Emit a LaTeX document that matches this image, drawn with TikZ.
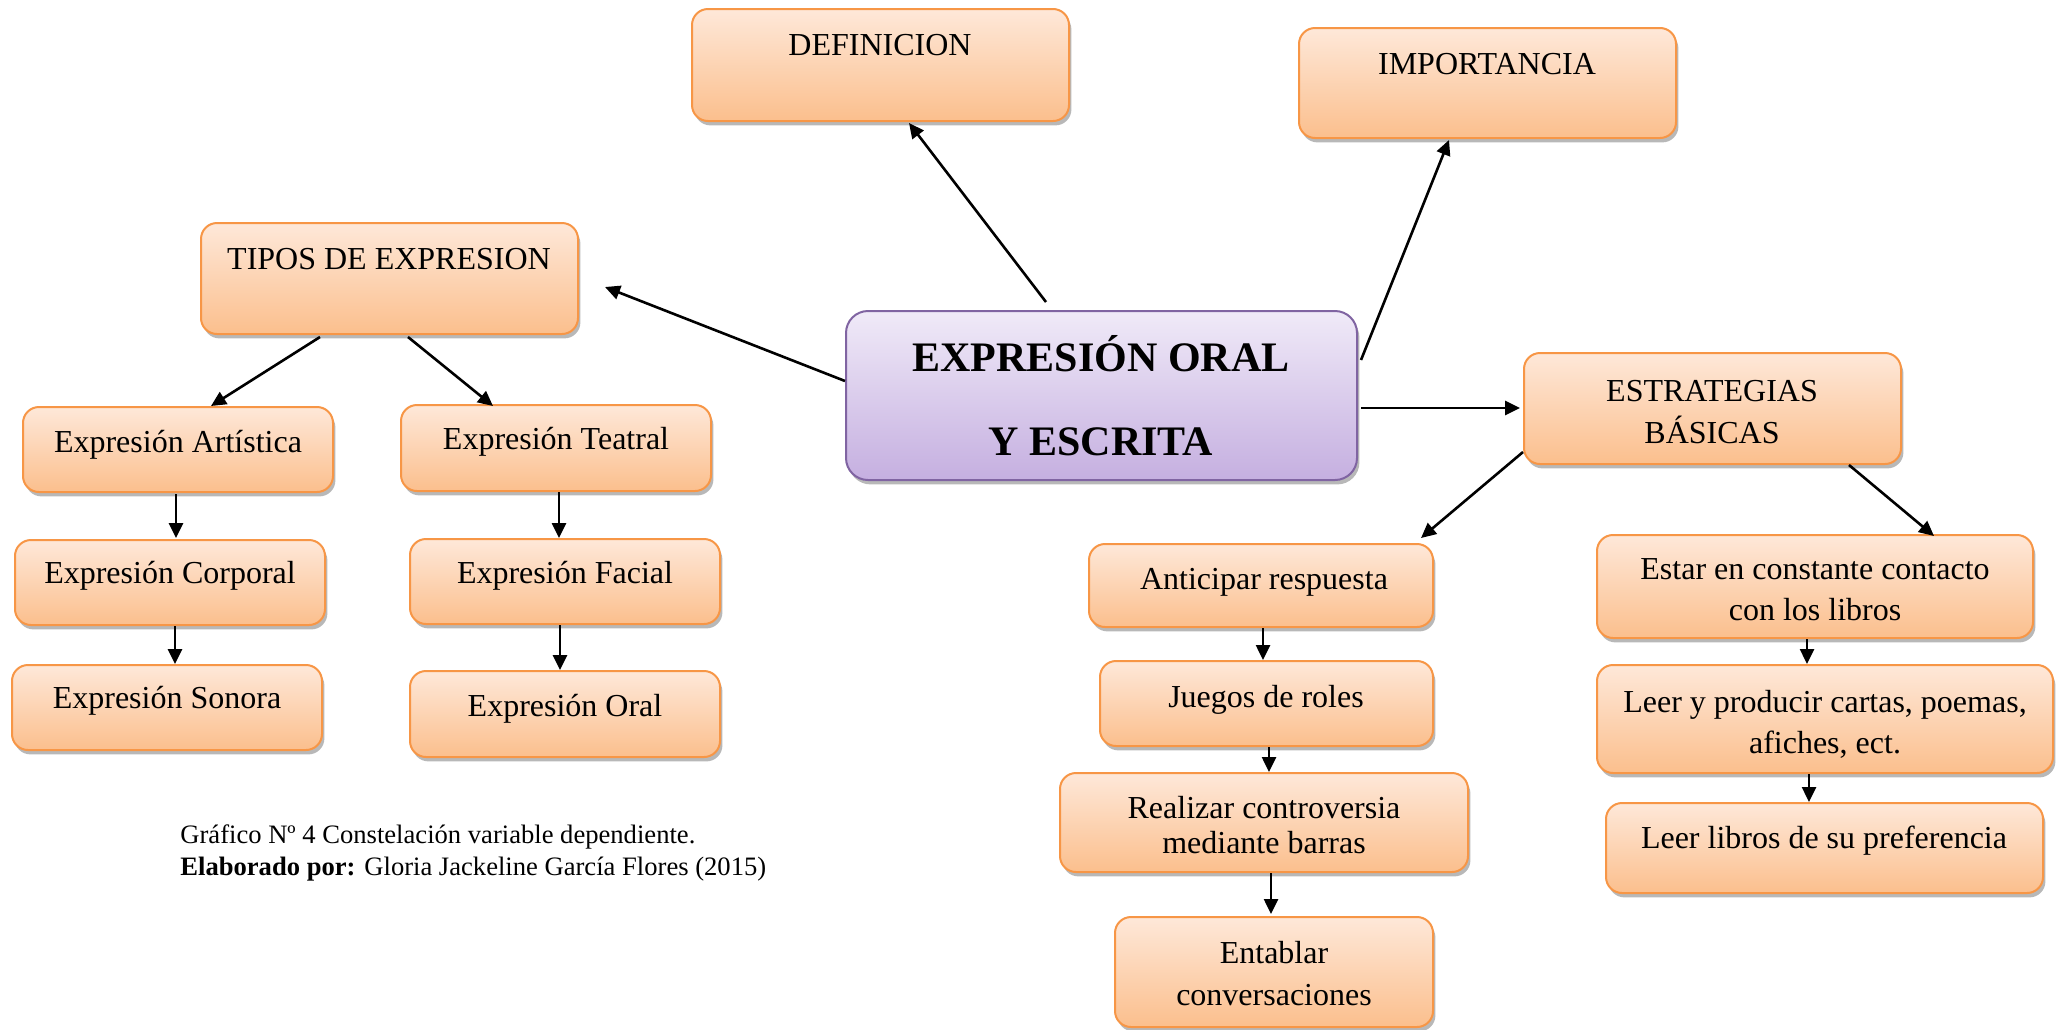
\documentclass[tikz,border=0pt]{standalone}
\usepackage{fontspec}
\setmainfont{Liberation Serif}
\usetikzlibrary{arrows.meta,shadows,fit,calc}
\definecolor{orbd}{HTML}{F79646}
\definecolor{ortop}{HTML}{FEE8D9}
\definecolor{orbot}{HTML}{FBBF8D}
\definecolor{pubd}{HTML}{8064A2}
\definecolor{putop}{HTML}{F0EAF8}
\definecolor{pubot}{HTML}{C5AFE0}
\tikzset{
 shd/.style={drop shadow={shadow xshift=1.2pt, shadow yshift=-2.2pt, opacity=0.28, fill=black}},
 obox/.style={draw=orbd, line width=1pt, rounded corners=8pt, top color=ortop, bottom color=orbot, inner sep=0pt, shd},
 pbox/.style={draw=pubd, line width=1pt, rounded corners=11pt, top color=putop, bottom color=pubot, inner sep=0pt, shd},
 txt/.style={font=\fontsize{16}{19}\selectfont, align=center, inner sep=0pt, anchor=base},
 arr/.style={line width=1.3pt, -{Triangle[length=7.5pt,width=7pt]}},
 note/.style={font=\fontsize{13.3}{16}\selectfont, inner sep=0pt, anchor=base west},
}
\begin{document}
\begin{tikzpicture}[x=0.5pt,y=-0.5pt]
\fill[white] (0,0) rectangle (2060,1029);
\useasboundingbox (0,0) rectangle (2060,1029);
% boxes
\node[obox, fit={(692,9) (1069,121)}] (def) {};
\node[obox, fit={(1299,28) (1676,138)}] (imp) {};
\node[obox, fit={(201,223) (578,334)}] (tip) {};
\node[pbox, fit={(846,311) (1357,480)}] (ctr) {};
\node[obox, fit={(1524,353) (1901,464)}] (est) {};
\node[obox, fit={(23,407) (333,492)}] (art) {};
\node[obox, fit={(15,540) (325,625)}] (cor) {};
\node[obox, fit={(12,665) (322,750)}] (son) {};
\node[obox, fit={(401,405) (711,491)}] (tea) {};
\node[obox, fit={(410,539) (720,624)}] (fac) {};
\node[obox, fit={(410,671) (720,757)}] (ora) {};
\node[obox, fit={(1089,544) (1433,627)}] (ant) {};
\node[obox, fit={(1100,661) (1433,746)}] (jue) {};
\node[obox, fit={(1060,773) (1468,872)}] (rea) {};
\node[obox, fit={(1115,917) (1433,1027)}] (ent) {};
\node[obox, fit={(1597,535) (2033,638)}] (esc) {};
\node[obox, fit={(1597,665) (2053,773)}] (lpc) {};
\node[obox, fit={(1606,803) (2043,893)}] (llp) {};
% texts
\node[txt] (def-t) at (880,55) {DEFINICION};
\node[txt] (imp-t) at (1487,74) {IMPORTANCIA};
\node[txt] (tip-t) at (389,269) {TIPOS DE EXPRESION};
\node[txt, font=\fontsize{21}{42}\selectfont\bfseries] (ctr-t) at (1101,455) {EXPRESIÓN ORAL\\Y ESCRITA};
\node[txt, font=\fontsize{16}{21}\selectfont] (est-t) at (1712,443) {ESTRATEGIAS\\BÁSICAS};
\node[txt] (art-t) at (178,452) {Expresión Artística};
\node[txt] (cor-t) at (170,583) {Expresión Corporal};
\node[txt] (son-t) at (167,708) {Expresión Sonora};
\node[txt] (tea-t) at (556,449) {Expresión Teatral};
\node[txt] (fac-t) at (565,583) {Expresión Facial};
\node[txt] (ora-t) at (565,716) {Expresión Oral};
\node[txt] (ant-t) at (1264,589) {Anticipar respuesta};
\node[txt] (jue-t) at (1266,707) {Juegos de roles};
\node[txt, font=\fontsize{16}{17.5}\selectfont] (rea-t) at (1264,853) {Realizar controversia\\mediante barras};
\node[txt, font=\fontsize{16}{21}\selectfont] (ent-t) at (1274,1005) {Entablar\\conversaciones};
\node[txt, font=\fontsize{16}{20.5}\selectfont] (esc-t) at (1815,620) {Estar en constante contacto\\con los libros};
\node[txt, font=\fontsize{16}{20.5}\selectfont] (lpc-t) at (1825,753) {Leer y producir cartas, poemas,\\afiches, ect.};
\node[txt] (llp-t) at (1824,848) {Leer libros de su preferencia};
% note
\node[note] (n1) at (180,843) {Gráfico Nº 4 Constelación variable dependiente.};
\node[note] (n2) at (180,875) {\textbf{Elaborado por:} Gloria Jackeline García Flores (2015)};
% arrows
\draw[arr] ($(ctr.north west)+(201,-8)$) -- ($(def.south west)+(218,1)$);
\draw[arr] ($(ctr.north east)+(3,50)$) -- ($(imp.south west)+(151,1)$);
\draw[arr] ($(ctr.north west)+(0,71)$) -- ($(tip.north east)+(26,65)$);
\draw[arr] ($(ctr.north east)+(3,98)$) -- ($(est.north west)+(-3,56)$);
\draw[arr] ($(tip.south west)+(120,2)$) -- ($(art.north west)+(189,0)$);
\draw[arr] ($(tip.south west)+(208,2)$) -- ($(tea.north west)+(93,2)$);
\draw[arr] ($(art.south west)+(154,1)$) -- ($(cor.north west)+(162,-1)$);
\draw[arr] ($(cor.south west)+(161,0)$) -- ($(son.north west)+(164,0)$);
\draw[arr] ($(tea.south west)+(159,0)$) -- ($(fac.north west)+(150,0)$);
\draw[arr] ($(fac.south west)+(151,0)$) -- ($(ora.north west)+(151,0)$);
\draw[arr] ($(est.south west)+(0,-13)$) -- ($(ant.north west)+(333,-5)$);
\draw[arr] ($(est.south west)+(326,0)$) -- ($(esc.north west)+(338,2)$);
\draw[arr] ($(ant.south west)+(175,0)$) -- ($(jue.north west)+(164,0)$);
\draw[arr] ($(jue.south west)+(170,0)$) -- ($(rea.north west)+(210,0)$);
\draw[arr] ($(rea.south west)+(212,0)$) -- ($(ent.north west)+(157,-2)$);
\draw[arr] ($(esc.south west)+(211,0)$) -- ($(lpc.north west)+(211,0)$);
\draw[arr] ($(lpc.south west)+(213,0)$) -- ($(llp.north west)+(204,0)$);
\end{tikzpicture}
\end{document}
